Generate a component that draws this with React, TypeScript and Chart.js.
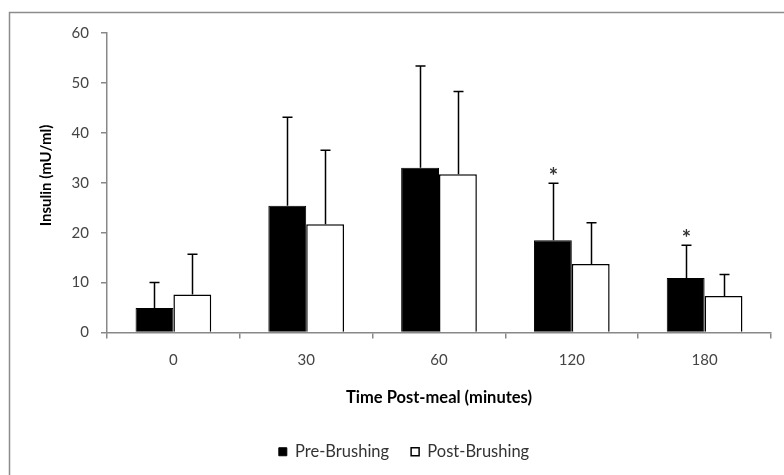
import React, { useEffect, useRef } from "react";
import { Chart, registerables } from "chart.js";

Chart.register(...registerables);

const categories = ["0", "30", "60", "120", "180"];
const preBrushing = [4.9, 25.4, 33.0, 18.5, 10.9];
const preBrushingErr = [5.1, 17.7, 20.4, 11.4, 6.6];
const postBrushing = [7.6, 21.7, 31.7, 13.7, 7.3];
const postBrushingErr = [8.1, 14.8, 16.6, 8.3, 4.3];
const preSignificant = [false, false, false, true, true];
const yTicks = [0, 10, 20, 30, 40, 50, 60];

const FONT = "Lato, 'Open Sans', sans-serif";

const frameBorder = {
  id: "frameBorder",
  beforeDraw(chart: any) {
    const ctx = chart.ctx;
    ctx.save();
    ctx.fillStyle = "#ffffff";
    ctx.fillRect(0, 0, chart.width, chart.height);
    ctx.strokeStyle = "#8c8c8c";
    ctx.lineWidth = 1.5;
    ctx.strokeRect(9.5, 12.5, chart.width + 20, chart.height + 20);
    ctx.restore();
  },
};

const errorBars = {
  id: "errorBars",
  afterDatasetsDraw(chart: any) {
    const ctx = chart.ctx;
    const yScale = chart.scales.y;
    const errs = [preBrushingErr, postBrushingErr];
    const vals = [preBrushing, postBrushing];
    ctx.save();
    ctx.strokeStyle = "#000000";
    ctx.lineWidth = 1.5;
    chart.data.datasets.forEach((ds: any, di: number) => {
      const meta = chart.getDatasetMeta(di);
      meta.data.forEach((bar: any, i: number) => {
        const top = yScale.getPixelForValue(vals[di][i] + errs[di][i]);
        const x = Math.round(bar.x) + 0.5;
        ctx.beginPath();
        ctx.moveTo(x, bar.y);
        ctx.lineTo(x, top);
        ctx.moveTo(x - 5, top);
        ctx.lineTo(x + 5, top);
        ctx.stroke();
        if (di === 0 && preSignificant[i]) {
          ctx.fillStyle = "#333333";
          ctx.font = "bold 22px " + FONT;
          ctx.textAlign = "center";
          ctx.textBaseline = "middle";
          ctx.fillText("*", x, top - 6);
        }
      });
    });
    ctx.restore();
  },
};

export default function App() {
  const ref = useRef<HTMLCanvasElement | null>(null);
  useEffect(() => {
    if (!ref.current) return;
    const chart = new Chart(ref.current, {
      type: "bar",
      data: {
        labels: categories,
        datasets: [
          {
            label: "Pre-Brushing",
            data: preBrushing,
            backgroundColor: "#000000",
            borderColor: "#000000",
            borderWidth: 1,
          },
          {
            label: "Post-Brushing",
            data: postBrushing,
            backgroundColor: "#ffffff",
            borderColor: "#000000",
            borderWidth: 1.5,
          },
        ],
      },
      options: {
        responsive: false,
        animation: false,
        layout: { padding: { left: 37, right: 13, top: 33, bottom: 5 } },
        datasets: {
          bar: { barPercentage: 1, categoryPercentage: 0.57 },
        },
        plugins: {
          tooltip: { enabled: false },
          legend: {
            position: "bottom",
            labels: {
              boxWidth: 8,
              boxHeight: 8,
              padding: 22,
              color: "#333333",
              font: { family: FONT, size: 16.5 },
            },
          },
        },
        scales: {
          x: {
            afterFit(scale: any) {
              scale.height = 89;
            },
            grid: {
              offset: true,
              drawOnChartArea: false,
              drawTicks: true,
              tickLength: 6,
              color: "#888888",
              lineWidth: 1.5,
            },
            border: { color: "#888888", width: 1.5 },
            ticks: {
              color: "#444444",
              padding: 13,
              font: { family: FONT, size: 15 },
            },
            title: {
              display: true,
              text: "Time Post-meal (minutes)",
              color: "#000000",
              font: { family: FONT, size: 16.5, weight: "bold" },
              padding: { top: 0, bottom: 14 },
            },
          },
          y: {
            min: 0,
            max: 60,
            afterFit(scale: any) {
              scale.width = 70;
            },
            afterBuildTicks(scale: any) {
              scale.ticks = yTicks.map((v) => ({ value: v }));
            },
            grid: {
              drawOnChartArea: false,
              drawTicks: true,
              tickLength: 6,
              color: "#888888",
              lineWidth: 1.5,
            },
            border: { color: "#888888", width: 1.5 },
            ticks: {
              color: "#444444",
              padding: 12,
              font: { family: FONT, size: 15 },
            },
            title: {
              display: true,
              text: "    Insulin (mU/ml)",
              color: "#000000",
              font: { family: FONT, size: 15, weight: "bold" },
              padding: { top: 0, bottom: 0 },
            },
          },
        },
      },
      plugins: [frameBorder, errorBars],
    } as any);
    return () => chart.destroy();
  }, []);
  return (
    <div style={{ position: "absolute", left: 0, top: 0, width: 784, height: 475 }}>
      <canvas ref={ref} width={784} height={475} style={{ display: "block" }} />
    </div>
  );
}
